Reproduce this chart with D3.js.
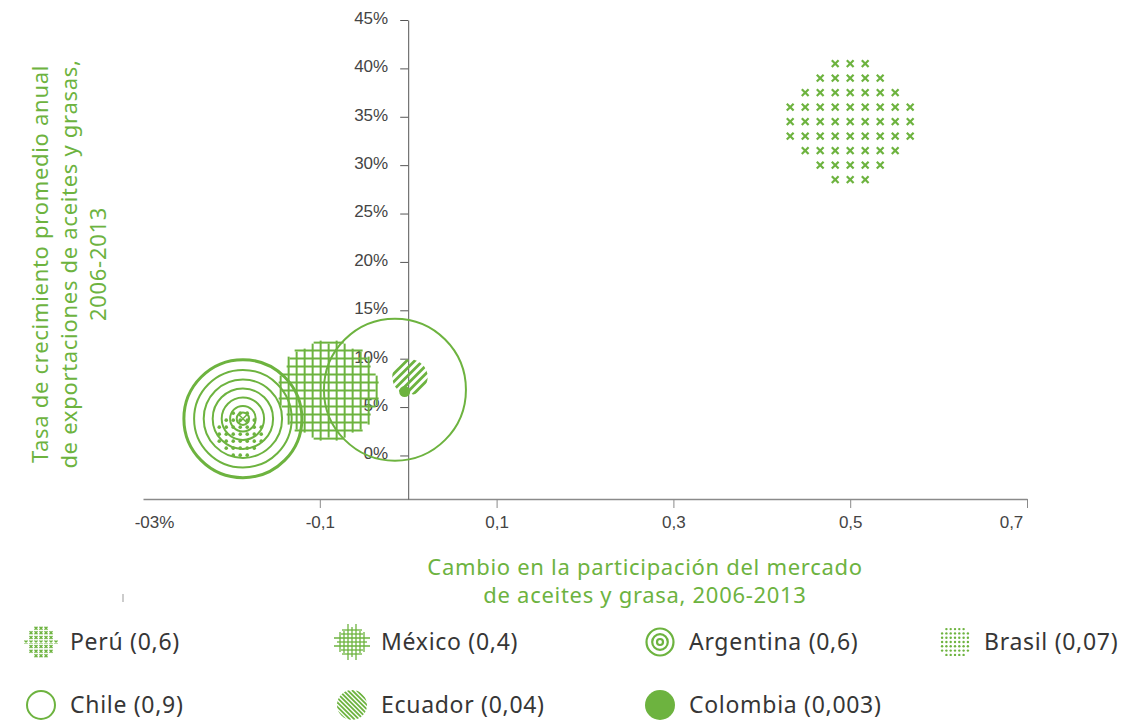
<!DOCTYPE html>
<html lang="es">
<head>
<meta charset="UTF-8">
<title>Aceites y grasas</title>
<script src="https://d3js.org/d3.v7.min.js"></script>
<style>
  body { margin: 0; background: #fff; }
  svg { font-family: "Noto Sans", "Open Sans", sans-serif; }
</style>
</head>
<body>
<div id="chart"></div>
<script>
    const width = 1143, height = 720;
    const green = "#6db33f";
    const textColor = "#363636";

    // data
    const countries = ["Perú", "México", "Argentina", "Brasil", "Chile", "Ecuador", "Colombia"];
    const shareChange = [0.5, -0.09, -0.187, -0.19, -0.015, 0.002, -0.004];
    const growth = [34.5, 6.7, 3.8, 2.2, 6.8, 8.1, 6.6];
    const bubbleSize = [0.6, 0.4, 0.6, 0.07, 0.9, 0.04, 0.003];
    const sizeLabels = ["0,6", "0,4", "0,6", "0,07", "0,9", "0,04", "0,003"];
    const styles = ["cross", "grid", "rings", "dots", "open", "hatch", "solid"];

    const xTicks = [-0.3, -0.1, 0.1, 0.3, 0.5, 0.7];
    const xTickLabels = ["-03%", "-0,1", "0,1", "0,3", "0,5", "0,7"];
    const yTicks = [0, 5, 10, 15, 20, 25, 30, 35, 40, 45];

    const svg = d3.select("#chart").append("svg")
        .attr("width", width)
        .attr("height", height);

    const x = d3.scaleLinear().domain([-0.3, 0.7]).range([143, 1027]);
    const y = d3.scaleLinear().domain([-4.5, 45]).range([499, 20]);
    const r = d3.scalePow().exponent(0.45).domain([0, 1]).range([0, 75.5]);

    // axes
    const xAxis = svg.append("g")
        .attr("transform", `translate(0,${y(-4.5)})`)
        .call(d3.axisBottom(x).tickValues(xTicks).tickSize(9).tickSizeOuter(0)
            .tickFormat((d, i) => xTickLabels[i]));
    xAxis.select(".domain").attr("stroke", "#8a8a8a").attr("stroke-width", 1.5);
    xAxis.selectAll(".tick line").attr("stroke", "#8a8a8a")
        .attr("opacity", d => d === -0.3 ? 0 : 1);
    xAxis.selectAll(".tick text").attr("y", 17).attr("dx", (d, i) => i === 0 ? 11 : (i === 5 ? -16 : 0))
        .style("font-size", "17px").attr("fill", "#444");

    const yAxis = svg.append("g")
        .attr("transform", `translate(${x(0)},0)`)
        .call(d3.axisLeft(y).tickValues(yTicks).tickSize(8).tickSizeOuter(0)
            .tickFormat(d => d + "%"));
    yAxis.select(".domain").attr("stroke", "#555");
    yAxis.selectAll(".tick line").attr("stroke", "#555");
    yAxis.selectAll(".tick text").attr("x", -20).attr("dy", "0.2em")
        .style("font-size", "17px").attr("fill", "#444");

    // axis titles
    const yTitle = svg.append("text")
        .attr("transform", "translate(72,264) rotate(-90)")
        .attr("text-anchor", "middle")
        .attr("fill", green)
        .style("font-size", "22px")
        .style("letter-spacing", "0.7px");
    ["Tasa de crecimiento promedio anual", "de exportaciones de aceites y grasas,", "2006-2013"]
        .forEach((t, i) => yTitle.append("tspan").attr("x", 0).attr("y", -24 + i * 29).text(t));

    const xTitle = svg.append("text")
        .attr("text-anchor", "middle")
        .attr("fill", green)
        .style("font-size", "22px")
        .style("letter-spacing", "0.7px");
    ["Cambio en la participación del mercado", "de aceites y grasa, 2006-2013"]
        .forEach((t, i) => xTitle.append("tspan").attr("x", 645).attr("y", 575 + i * 28).text(t));

    svg.append("line").attr("x1", 123).attr("x2", 123).attr("y1", 594).attr("y2", 602)
        .attr("stroke", "#999");

    // marks drawn inside a circle of radius rad at (cx, cy)
    function drawMark(g, style, cx, cy, rad, small) {
        if (style === "cross") {
            const sx = small ? 5 : 15, sy = small ? 4.6 : 14.5, a = small ? 1.5 : 3.4;
            const n = Math.ceil(rad / sx) + 1;
            for (let i = -n; i <= n; i++) {
                for (let j = -n; j <= n; j++) {
                    const dx = i * sx, dy = j * sy;
                    if (Math.hypot(dx, dy) > rad + (small ? 0.5 : 2)) continue;
                    g.append("path")
                        .attr("d", `M${cx + dx - a},${cy + dy - a}L${cx + dx + a},${cy + dy + a}M${cx + dx + a},${cy + dy - a}L${cx + dx - a},${cy + dy + a}`)
                        .attr("stroke", green).attr("stroke-width", small ? 1.4 : 2.2);
                }
            }
        } else if (style === "grid") {
            const s = small ? 4 : 8;
            const n = Math.floor(rad / s);
            for (let i = -n; i <= n; i++) {
                const d = i * s;
                const h = Math.sqrt(rad * rad - d * d);
                const hs = Math.max(s, Math.round(h / s) * s + (i % 2 ? 2 : -1));
                g.append("line").attr("x1", cx + d).attr("x2", cx + d)
                    .attr("y1", cy - hs).attr("y2", cy + hs)
                    .attr("stroke", green).attr("stroke-width", small ? 1.3 : 2);
                g.append("line").attr("y1", cy + d).attr("y2", cy + d)
                    .attr("x1", cx - hs).attr("x2", cx + hs)
                    .attr("stroke", green).attr("stroke-width", small ? 1.3 : 2);
            }
        } else if (style === "rings") {
            const fr = small ? [1, 0.62, 0.3] : [1, 0.83, 0.67, 0.52, 0.37, 0.23, 0.12];
            fr.forEach((f, i) => {
                g.append("circle").attr("cx", cx).attr("cy", cy).attr("r", rad * f - (small ? 1.5 : 1))
                    .attr("fill", "none").attr("stroke", green)
                    .attr("stroke-width", small ? 2.2 : (i === 0 ? 3 : 2));
            });
            if (!small) {
                const a = 4;
                g.append("path")
                    .attr("d", `M${cx - a},${cy - a}L${cx + a},${cy + a}M${cx + a},${cy - a}L${cx - a},${cy + a}`)
                    .attr("stroke", green).attr("stroke-width", 1.5);
            }
        } else if (style === "dots") {
            const s = small ? 4.3 : 7;
            const n = Math.ceil(rad / s);
            for (let i = -n; i <= n; i++) {
                for (let j = -n; j <= n; j++) {
                    if (Math.hypot(i * s, j * s) > rad + 1) continue;
                    g.append("circle").attr("cx", cx + i * s).attr("cy", cy + j * s)
                        .attr("r", small ? 1.2 : 1.8).attr("fill", green);
                }
            }
        } else if (style === "open") {
            g.append("circle").attr("cx", cx).attr("cy", cy).attr("r", rad - 1)
                .attr("fill", "none").attr("stroke", green).attr("stroke-width", 2);
        } else if (style === "hatch") {
            const id = "clip" + Math.round(cx) + "_" + Math.round(cy);
            svg.append("clipPath").attr("id", id).append("circle")
                .attr("cx", cx).attr("cy", cy).attr("r", rad);
            const hg = g.append("g").attr("clip-path", `url(#${id})`);
            const s = small ? 4.5 : 8;
            const dir = small ? -1 : 1; // legend swatch leans the other way
            for (let k = -2 * rad; k <= 2 * rad; k += s) {
                hg.append("line")
                    .attr("x1", cx + k - rad).attr("y1", cy + dir * rad)
                    .attr("x2", cx + k + rad).attr("y2", cy - dir * rad)
                    .attr("stroke", green).attr("stroke-width", small ? 1.8 : 2.8);
            }
        } else if (style === "solid") {
            g.append("circle").attr("cx", cx).attr("cy", cy).attr("r", rad).attr("fill", green);
        }
    }

    // bubbles
    const bubbles = svg.append("g");
    countries.forEach((c, i) => {
        const g = bubbles.append("g").attr("class", "bubble");
        drawMark(g, styles[i], x(shareChange[i]), y(growth[i]), r(bubbleSize[i]), false);
    });

    // legend
    const legendCols = [41, 352, 660, 955];
    const legend = svg.append("g");
    countries.forEach((c, i) => {
        const row = i < 4 ? 0 : 1;
        const col = i < 4 ? i : i - 4;
        const cy = row === 0 ? 642 : 705;
        const cx = legendCols[col];
        const g = legend.append("g");
        drawMark(g, styles[i], cx, cy, 15, true);
        g.append("text")
            .attr("x", cx + 29).attr("y", cy + 8)
            .attr("fill", textColor)
            .style("font-size", "23px")
            .style("letter-spacing", "0.7px")
            .text(`${c} (${sizeLabels[i]})`);
    });
</script>
</body>
</html>
